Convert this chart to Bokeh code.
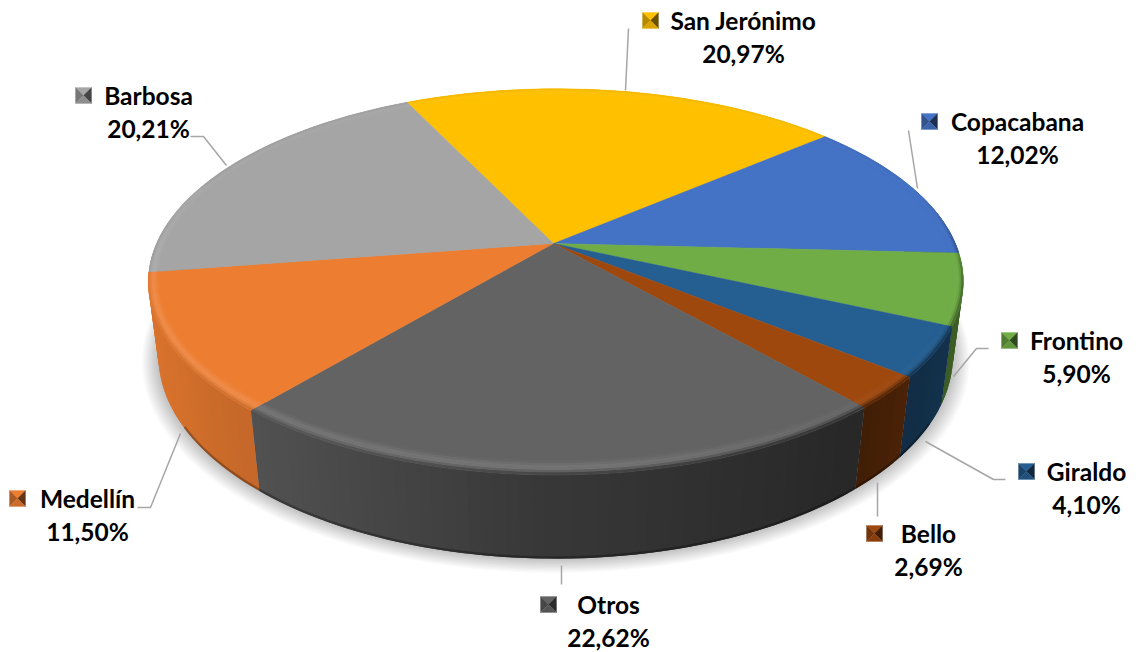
import numpy as np
from bokeh.plotting import figure
from bokeh.models import Range1d
from bokeh.core.properties import value
from bokeh.embed import file_html
from bokeh.resources import INLINE

categories = ["San Jerónimo", "Copacabana", "Frontino", "Giraldo", "Bello", "Otros", "Medellín", "Barbosa"]
shares = [20.97, 12.02, 5.90, 4.10, 2.69, 22.62, 11.50, 20.21]
colors = ["#ffc000", "#4472c4", "#70ad47", "#255e91", "#9e480e", "#636363", "#ed7d31", "#a5a5a5"]

# layout: legend key centre of each label, and the centre x of its two text lines
key_x = [650, 929, 1009, 1026, 874, 548, 17, 83]
key_y = [20, 121, 340, 471, 533, 604, 498, 95]
name_cx = [743, 1017, 1076, 1086, 928, 608, 87, 148]
pct_cx = [743, 1017, 1076, 1086, 928, 608, 87, 148]
leaders_x = [[628, 625], [908, 917], [988, 976, 953], [1005, 993, 925], [877, 877], [561, 561], [137, 150, 180], [190, 203, 226]]
leaders_y = [[28, 90], [130, 188], [348, 348, 376], [479, 479, 441], [482, 516], [565, 584], [507, 507, 433], [136, 136, 165]]

# projection of the unit disc on the page
CX, CY = 553, 243
A, C, D, B, G, H = 399.37, -7.58, -4.18, -185.40, -0.0018, 0.1986
N, F = 0.025, 75.0
START = 114.6


def top(u, v):
    w = 1 + G * u + H * v
    return CX + (A * u + C * v) / w, CY + (D * u + B * v) / w


def bottom(u, v):
    w = 1 + G * u + H * v + N
    return CX + (A * u + C * v) / w, CY + (D * u + B * v + F) / w


def rgb(h):
    return np.array([int(h[i:i + 2], 16) for i in (1, 3, 5)], float)


def tohex(c):
    c = np.clip(np.round(c), 0, 255).astype(int)
    return "#%02x%02x%02x" % tuple(c)


def side_factor(x):
    return np.interp(x, [146, 260, 555, 860, 965], [0.92, 0.82, 0.56, 0.40, 0.55])


p = figure(width=1139, height=652, x_range=Range1d(0, 1139), y_range=Range1d(652, 0),
           output_backend="svg", toolbar_location=None, min_border=0, outline_line_color=None)
p.axis.visible = False
p.grid.visible = False
p.background_fill_color = "#ffffff"
p.border_fill_color = "#ffffff"

total = sum(shares)
edges = [START]
for s in shares:
    edges.append(edges[-1] - s * 360 / total)

ring = np.radians(np.arange(0, 360, 2.0))

# soft shadow under the disc
for i in range(12, 0, -1):
    bx, by = bottom(np.cos(ring), np.sin(ring))
    k = 1 + i * 0.0035
    p.patch(CX + (bx - CX) * k, CY + 75 + (by - CY - 75) * k + i * 0.35,
            fill_color="#000000", fill_alpha=0.018, line_color=None)

walls = []
fx, fy, fc = [], [], []
bxs, bys, bcs = [], [], []
BANDS = np.linspace(0, 1, 7)
BX, BY = 0.024, 0.05


def radial(u, v, q):
    # a point on the same spoke, q of the rim's width inside the outer edge
    r = 1 - q * (BX * u * u + BY * v * v)
    return top(u * r, v * r)


for i, col in enumerate(colors):
    base = rgb(col)
    a0, a1 = edges[i], edges[i + 1]
    n = max(2, int((a0 - a1) / 1.5))
    ang = np.radians(np.linspace(a0, a1, n + 1))
    # flat top face
    tx, ty = top(np.cos(ang), np.sin(ang))
    fx.append([CX] + tx.tolist())
    fy.append([CY] + ty.tolist())
    fc.append(col)
    for j in range(n):
        # each piece reaches over the next one, so that no seam shows between them
        far = min(j + 2, n)
        u0, v0, u1, v1 = np.cos(ang[j]), np.sin(ang[j]), np.cos(ang[far]), np.sin(ang[far])
        um, vm = np.cos((ang[j] + ang[j + 1]) / 2), np.sin((ang[j] + ang[j + 1]) / 2)
        xm, _ = top(um, vm)
        fac = float(side_factor(xm))
        # outer wall of the slice
        if vm < 0.3:
            t0, t1 = top(u0, v0), top(u1, v1)
            tc = top(um, vm)
            b0, b1 = bottom(u0, v0), bottom(u1, v1)
            bc = bottom(um, vm)
            walls.append((vm, [t0[0], tc[0], t1[0], b1[0], bc[0], b0[0]],
                          [t0[1], tc[1], t1[1], b1[1], bc[1], b0[1]], tohex(base * fac)))
        # bevelled rim of the top face
        front = float(np.clip(0.5 - vm * 2, 0, 1))
        edge = base * (1 - (1 - fac) * front) if vm < 0.35 else base * 0.95
        hi = 0.13 * float(np.clip(1.25 - (xm - 500) / 400, 0.1, 1)) * (0.35 + 0.65 * front)
        for k in range(len(BANDS) - 1):
            q0, q1 = 1 - BANDS[k], 1 - BANDS[k + 1]
            tm = (BANDS[k] + BANDS[k + 1]) / 2
            if tm < 0.5:
                c = base + (255 - base) * hi * (tm / 0.5)
            else:
                peak = base + (255 - base) * hi
                c = peak + (edge - peak) * ((tm - 0.5) / 0.5) ** 1.5
            pa, pb = radial(u0, v0, q0), radial(u1, v1, q0)
            pc, pd = radial(u1, v1, q1), radial(u0, v0, q1)
            bxs.append([pa[0], pb[0], pc[0], pd[0]])
            bys.append([pa[1], pb[1], pc[1], pd[1]])
            bcs.append(tohex(c))

# walls are painted from the far ones to the near ones
walls.sort(key=lambda w: -w[0])
p.patches([w[1] for w in walls], [w[2] for w in walls], fill_color=[w[3] for w in walls], line_color=None)

# the wall's lower edge turns darker
low = np.radians(np.arange(-150, -30, 1.0))
ex, ey = bottom(np.cos(low), np.sin(low))
p.line(ex, ey - 1.2, line_color="#000000", line_alpha=0.28, line_width=2.4)

p.patches(fx, fy, fill_color=fc, line_color=fc, line_width=0.4)
p.patches(bxs, bys, fill_color=bcs, line_color=None)

# leader lines
p.multi_line(leaders_x, leaders_y, line_color="#a6a6a6", line_width=1.5)

# legend keys, a small pyramid of four triangles
kx, ky, kc = [], [], []
HALF = 8
for x, y, col in zip(key_x, key_y, colors):
    base = rgb(col)
    tris = [
        ([-HALF, HALF, 0], [-HALF, -HALF, 0], base * 1.0),
        ([-HALF, 0, -HALF], [-HALF, 0, HALF], base * 0.72),
        ([HALF, 0, HALF], [-HALF, 0, HALF], base * 0.42),
        ([-HALF, HALF, 0], [HALF, HALF, 0], base * 0.86),
    ]
    for dx, dy, c in tris:
        kx.append([x + d for d in dx])
        ky.append([y + d for d in dy])
        kc.append(tohex(c))
p.patches(kx, ky, fill_color=kc, line_color=kc, line_width=0.3)

# labels
pct = [f"{s:.2f}".replace(".", ",") + "%" for s in shares]
p.text(name_cx, [y - 0.5 for y in key_y], text=categories, text_font=value("Lato"), text_font_style="bold",
       text_font_size="24.5px", text_align="center", text_baseline="alphabetic", text_color="#000000")
p.text(pct_cx, [y + 33 for y in key_y], text=pct, text_font=value("Lato"), text_font_style="bold",
       text_font_size="24.5px", text_align="center", text_baseline="alphabetic", text_color="#000000")

open("out.html", "w").write(file_html(p, INLINE))
